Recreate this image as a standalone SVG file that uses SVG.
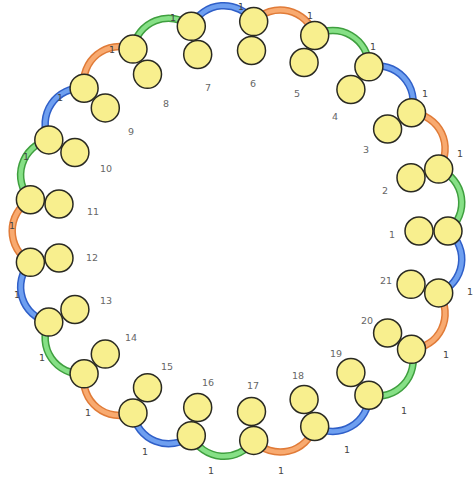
<svg xmlns="http://www.w3.org/2000/svg" width="474" height="481" viewBox="0 0 474 481">
<style>
.bg{fill:#ffffff}
.c{fill:#f8ef8e;stroke:#2a2a22;stroke-width:1.5}
.e{fill:none;stroke-width:7.5;stroke-linecap:butt}
.i{fill:none;stroke-width:4.5;stroke-linecap:butt}
.g .e{stroke:#3f9f3f}.g .i{stroke:#86e086}
.o .e{stroke:#e07b38}.o .i{stroke:#f8aa70}
.b .e{stroke:#2f5fc8}.b .i{stroke:#6e9ff0}
.al{font-family:"DejaVu Sans",sans-serif;font-size:9.5px;fill:#444;text-anchor:middle}
.pl{font-family:"DejaVu Sans",sans-serif;font-size:9.5px;fill:#666;text-anchor:middle}
</style>
<rect class="bg" x="0" y="0" width="474" height="481"/>
<g id="connectors">
<g class="g"><path id="a1" class="e" d="M448,231 A36,36 0 0 0 438.7,169.1"/><path class="i" d="M448,231 A36,36 0 0 0 438.7,169.1"/></g>
<g class="o"><path class="e" d="M438.7,169.1 A36,36 0 0 0 411.5,112.7"/><path class="i" d="M438.7,169.1 A36,36 0 0 0 411.5,112.7"/></g>
<g class="b"><path class="e" d="M411.5,112.7 A36,36 0 0 0 368.9,66.8"/><path class="i" d="M411.5,112.7 A36,36 0 0 0 368.9,66.8"/></g>
<g class="g"><path class="e" d="M368.9,66.8 A36,36 0 0 0 314.7,35.5"/><path class="i" d="M368.9,66.8 A36,36 0 0 0 314.7,35.5"/></g>
<g class="o"><path class="e" d="M314.7,35.5 A36,36 0 0 0 253.7,21.6"/><path class="i" d="M314.7,35.5 A36,36 0 0 0 253.7,21.6"/></g>
<g class="b"><path class="e" d="M253.7,21.6 A36,36 0 0 0 191.3,26.3"/><path class="i" d="M253.7,21.6 A36,36 0 0 0 191.3,26.3"/></g>
<g class="g"><path class="e" d="M191.3,26.3 A36,36 0 0 0 133,49.1"/><path class="i" d="M191.3,26.3 A36,36 0 0 0 133,49.1"/></g>
<g class="o"><path class="e" d="M133,49.1 A36,36 0 0 0 84.1,88.2"/><path class="i" d="M133,49.1 A36,36 0 0 0 84.1,88.2"/></g>
<g class="b"><path class="e" d="M84.1,88.2 A36,36 0 0 0 48.8,139.9"/><path class="i" d="M84.1,88.2 A36,36 0 0 0 48.8,139.9"/></g>
<g class="g"><path class="e" d="M48.8,139.9 A36,36 0 0 0 30.4,199.7"/><path class="i" d="M48.8,139.9 A36,36 0 0 0 30.4,199.7"/></g>
<g class="o"><path class="e" d="M30.4,199.7 A36,36 0 0 0 30.4,262.3"/><path class="i" d="M30.4,199.7 A36,36 0 0 0 30.4,262.3"/></g>
<g class="b"><path class="e" d="M30.4,262.3 A36,36 0 0 0 48.8,322.1"/><path class="i" d="M30.4,262.3 A36,36 0 0 0 48.8,322.1"/></g>
<g class="g"><path class="e" d="M48.8,322.1 A36,36 0 0 0 84.1,373.8"/><path class="i" d="M48.8,322.1 A36,36 0 0 0 84.1,373.8"/></g>
<g class="o"><path class="e" d="M84.1,373.8 A36,36 0 0 0 133,412.9"/><path class="i" d="M84.1,373.8 A36,36 0 0 0 133,412.9"/></g>
<g class="b"><path class="e" d="M133,412.9 A36,36 0 0 0 191.3,435.7"/><path class="i" d="M133,412.9 A36,36 0 0 0 191.3,435.7"/></g>
<g class="g"><path class="e" d="M191.3,435.7 A36,36 0 0 0 253.7,440.4"/><path class="i" d="M191.3,435.7 A36,36 0 0 0 253.7,440.4"/></g>
<g class="o"><path class="e" d="M253.7,440.4 A36,36 0 0 0 314.7,426.5"/><path class="i" d="M253.7,440.4 A36,36 0 0 0 314.7,426.5"/></g>
<g class="b"><path class="e" d="M314.7,426.5 A36,36 0 0 0 368.9,395.2"/><path class="i" d="M314.7,426.5 A36,36 0 0 0 368.9,395.2"/></g>
<g class="g"><path class="e" d="M368.9,395.2 A36,36 0 0 0 411.5,349.3"/><path class="i" d="M368.9,395.2 A36,36 0 0 0 411.5,349.3"/></g>
<g class="o"><path class="e" d="M411.5,349.3 A36,36 0 0 0 438.7,292.9"/><path class="i" d="M411.5,349.3 A36,36 0 0 0 438.7,292.9"/></g>
<g class="b"><path class="e" d="M438.7,292.9 A36,36 0 0 0 448,231"/><path class="i" d="M438.7,292.9 A36,36 0 0 0 448,231"/></g>
</g>
<g id="nodes">
<g id="n1"><circle class="c" cx="419" cy="231" r="14"/><circle class="c" cx="448" cy="231" r="14"/><text class="pl" x="392" y="238">1</text></g>
<g id="n2"><circle class="c" cx="411" cy="177.7" r="14"/><circle class="c" cx="438.7" cy="169.1" r="14"/><text class="pl" x="385" y="194">2</text></g>
<g id="n3"><circle class="c" cx="387.6" cy="129" r="14"/><circle class="c" cx="411.5" cy="112.7" r="14"/><text class="pl" x="366" y="153">3</text></g>
<g id="n4"><circle class="c" cx="350.9" cy="89.5" r="14"/><circle class="c" cx="368.9" cy="66.8" r="14"/><text class="pl" x="335" y="120">4</text></g>
<g id="n5"><circle class="c" cx="304.1" cy="62.5" r="14"/><circle class="c" cx="314.7" cy="35.5" r="14"/><text class="pl" x="297" y="97">5</text></g>
<g id="n6"><circle class="c" cx="251.5" cy="50.5" r="14"/><circle class="c" cx="253.7" cy="21.6" r="14"/><text class="pl" x="253" y="87">6</text></g>
<g id="n7"><circle class="c" cx="197.7" cy="54.5" r="14"/><circle class="c" cx="191.3" cy="26.3" r="14"/><text class="pl" x="208" y="91">7</text></g>
<g id="n8"><circle class="c" cx="147.5" cy="74.3" r="14"/><circle class="c" cx="133" cy="49.1" r="14"/><text class="pl" x="166" y="107">8</text></g>
<g id="n9"><circle class="c" cx="105.3" cy="107.9" r="14"/><circle class="c" cx="84.1" cy="88.2" r="14"/><text class="pl" x="131" y="135">9</text></g>
<g id="n10"><circle class="c" cx="74.9" cy="152.5" r="14"/><circle class="c" cx="48.8" cy="139.9" r="14"/><text class="pl" x="106" y="172">10</text></g>
<g id="n11"><circle class="c" cx="59" cy="204" r="14"/><circle class="c" cx="30.4" cy="199.7" r="14"/><text class="pl" x="93" y="215">11</text></g>
<g id="n12"><circle class="c" cx="59" cy="258" r="14"/><circle class="c" cx="30.4" cy="262.3" r="14"/><text class="pl" x="92" y="261">12</text></g>
<g id="n13"><circle class="c" cx="74.9" cy="309.5" r="14"/><circle class="c" cx="48.8" cy="322.1" r="14"/><text class="pl" x="106" y="304">13</text></g>
<g id="n14"><circle class="c" cx="105.3" cy="354.1" r="14"/><circle class="c" cx="84.1" cy="373.8" r="14"/><text class="pl" x="131" y="341">14</text></g>
<g id="n15"><circle class="c" cx="147.5" cy="387.7" r="14"/><circle class="c" cx="133" cy="412.9" r="14"/><text class="pl" x="167" y="370">15</text></g>
<g id="n16"><circle class="c" cx="197.7" cy="407.5" r="14"/><circle class="c" cx="191.3" cy="435.7" r="14"/><text class="pl" x="208" y="386">16</text></g>
<g id="n17"><circle class="c" cx="251.5" cy="411.5" r="14"/><circle class="c" cx="253.7" cy="440.4" r="14"/><text class="pl" x="253" y="389">17</text></g>
<g id="n18"><circle class="c" cx="304.1" cy="399.5" r="14"/><circle class="c" cx="314.7" cy="426.5" r="14"/><text class="pl" x="298" y="379">18</text></g>
<g id="n19"><circle class="c" cx="350.9" cy="372.5" r="14"/><circle class="c" cx="368.9" cy="395.2" r="14"/><text class="pl" x="336" y="357">19</text></g>
<g id="n20"><circle class="c" cx="387.6" cy="333" r="14"/><circle class="c" cx="411.5" cy="349.3" r="14"/><text class="pl" x="367" y="324">20</text></g>
<g id="n21"><circle class="c" cx="411" cy="284.3" r="14"/><circle class="c" cx="438.7" cy="292.9" r="14"/><text class="pl" x="386" y="284">21</text></g>
</g>
<g id="connector-labels">
<text class="al" x="460" y="157">1</text>
<text class="al" x="425" y="97">1</text>
<text class="al" x="373" y="50">1</text>
<text class="al" x="310" y="19">1</text>
<text class="al" x="241" y="10">1</text>
<text class="al" x="173" y="21">1</text>
<text class="al" x="112" y="53">1</text>
<text class="al" x="60" y="101">1</text>
<text class="al" x="26" y="160">1</text>
<text class="al" x="12" y="229">1</text>
<text class="al" x="17" y="298">1</text>
<text class="al" x="42" y="361">1</text>
<text class="al" x="88" y="416">1</text>
<text class="al" x="145" y="455">1</text>
<text class="al" x="211" y="474">1</text>
<text class="al" x="281" y="474">1</text>
<text class="al" x="347" y="453">1</text>
<text class="al" x="404" y="414">1</text>
<text class="al" x="446" y="358">1</text>
<text class="al" x="470" y="295">1</text>
</g>
</svg>
